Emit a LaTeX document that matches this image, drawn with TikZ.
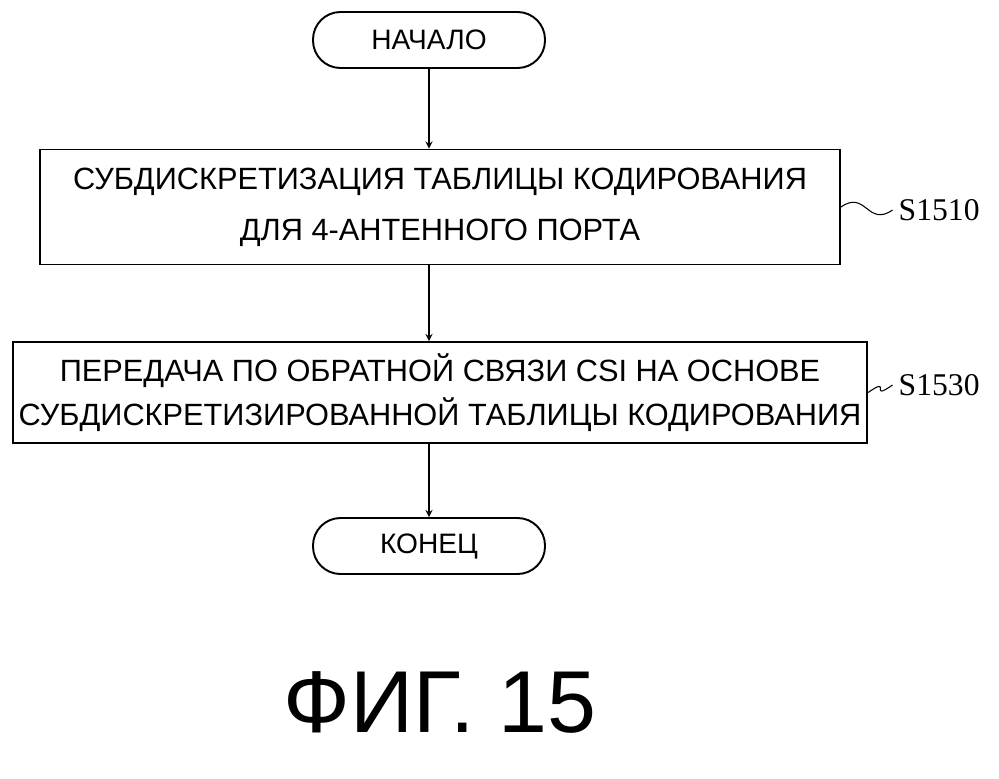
\documentclass[tikz,border=0pt]{standalone}
\usepackage{fontspec}
\setmainfont{Liberation Sans}
\newfontfamily\labelfont{Liberation Serif}
\usetikzlibrary{arrows}
\tikzstyle{startstop} = [rectangle, rounded corners=0.55cm, minimum width=4.64cm, minimum height=1.12cm, text centered, draw=black, line width=1.1pt, font=\fontsize{16}{19}\selectfont]
\tikzstyle{process} = [rectangle, minimum width=16cm, text centered, align=center, draw=black, line width=1.1pt]
\tikzstyle{steplabel} = [anchor=west, font=\labelfont\fontsize{18}{20}\selectfont]
\tikzstyle{arrow} = [line width=0.8pt,->,>=stealth]
\tikzstyle{wave} = [line width=0.6pt]

\begin{document}
\begin{tikzpicture}
\useasboundingbox (0,0) rectangle (19.98,-15.56);
\node (n1) [startstop] at (8.58,-0.80) {НАЧАЛО};
\node (n2) [process, minimum height=2.3cm, font=\fontsize{17.5}{29}\selectfont] at (8.80,-4.14) {СУБДИСКРЕТИЗАЦИЯ ТАБЛИЦЫ КОДИРОВАНИЯ\\ДЛЯ 4-АНТЕННОГО ПОРТА};
\node (n3) [process, minimum height=2.02cm, font=\fontsize{17.5}{25}\selectfont] at (8.80,-7.85) {ПЕРЕДАЧА ПО ОБРАТНОЙ СВЯЗИ CSI НА ОСНОВЕ\\СУБДИСКРЕТИЗИРОВАННОЙ ТАБЛИЦЫ КОДИРОВАНИЯ};
\node (n4) [startstop] at (8.58,-10.92) {КОНЕЦ};
\node (l1) [steplabel] at (17.85,-4.20) {S1510};
\node (l2) [steplabel] at (17.85,-7.70) {S1530};
\node (fig) at (8.80,-14.05) {\fontsize{50}{56}\selectfont ФИГ. 15};

\draw [arrow] (n1.south -| 8.58,0) -- (n2.north -| 8.58,0);
\draw [arrow] (n2.south -| 8.58,0) -- (n3.north -| 8.58,0);
\draw [arrow] (n3.south -| 8.58,0) -- (n4.north -| 8.58,0);
\draw [wave] (n2.east) .. controls +(0.5,0.35) and +(-0.5,-0.35) .. (l1.west);
\draw [wave] (n3.east |- 0,-7.85) .. controls +(0.5,0.35) and +(-0.5,-0.35) .. (l2.west);
\end{tikzpicture}
\end{document}
